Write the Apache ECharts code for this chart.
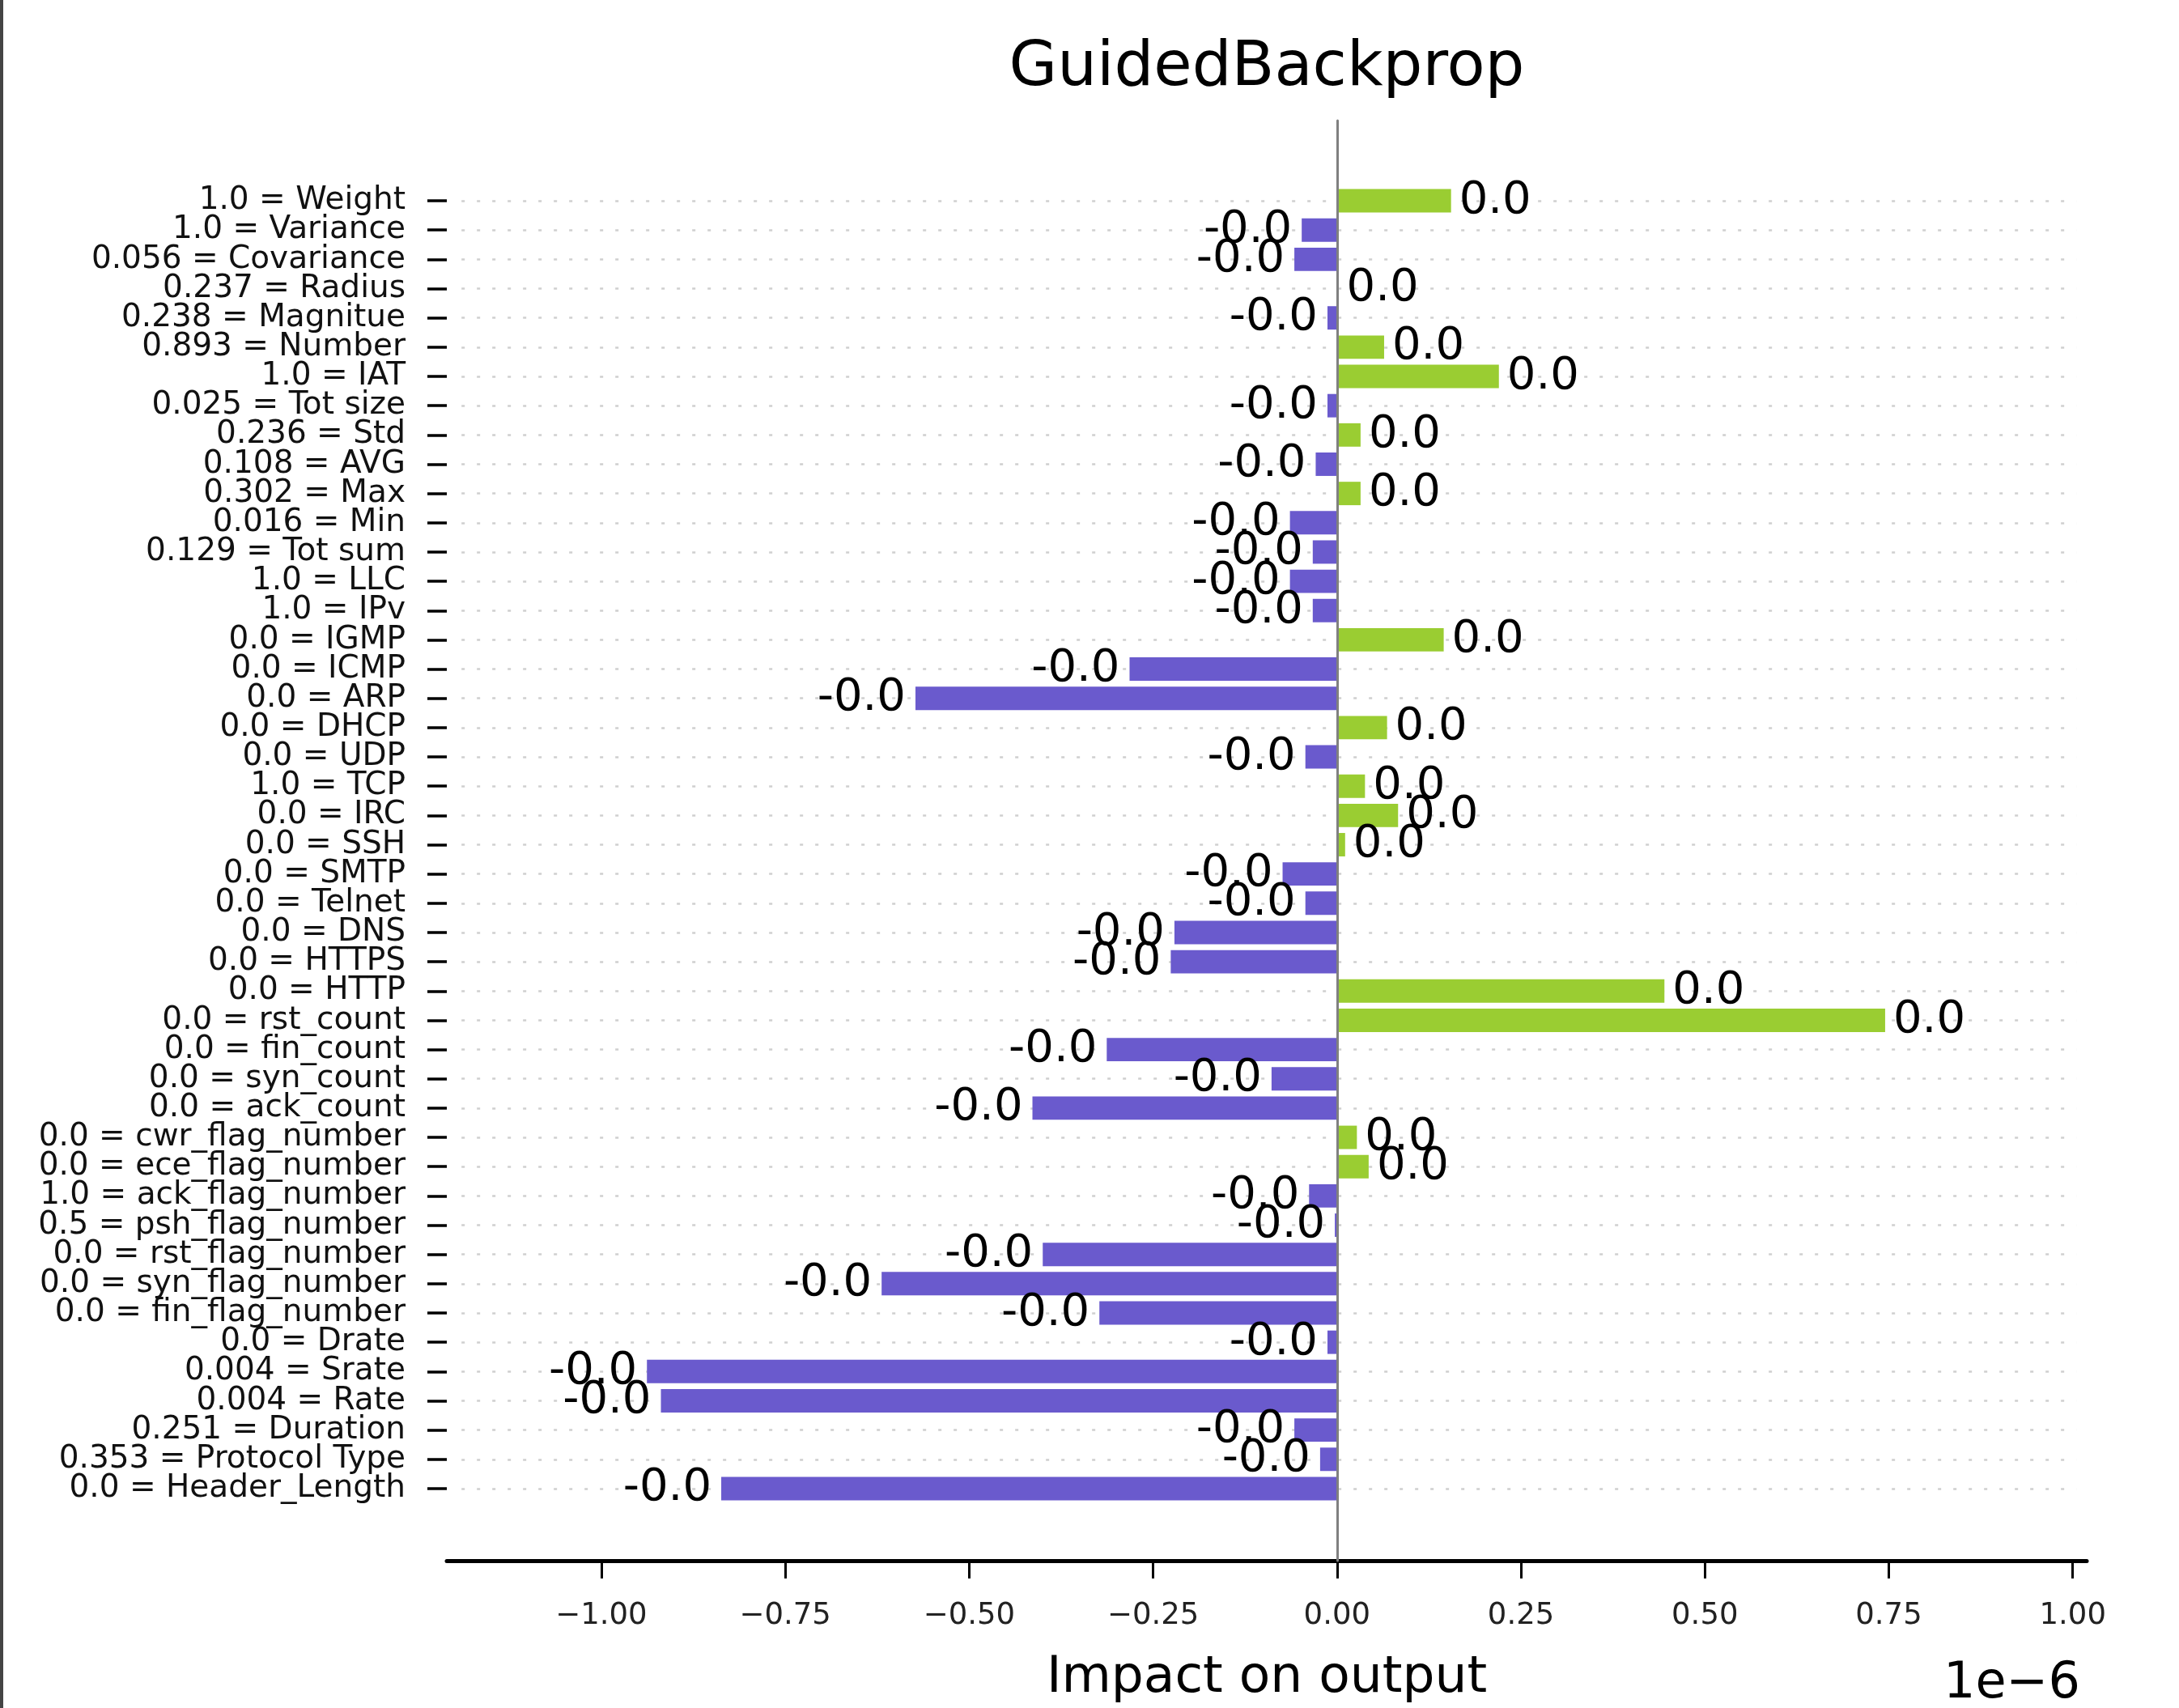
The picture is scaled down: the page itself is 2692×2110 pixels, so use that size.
<!DOCTYPE html>
<html>
<head>
<meta charset="utf-8">
<script src="https://cdn.jsdelivr.net/npm/echarts@6/dist/echarts.min.js"></script>
<style>
  html, body { margin: 0; padding: 0; background: #fff; }
  #chart { width: 2692px; height: 2110px; position: relative; }
  #edge { position: absolute; left: 0; top: 0; width: 4px; height: 2110px; background: #444; z-index: 10; }
</style>
</head>
<body>
<div id="chart"></div>
<div id="edge"></div>
<script>
// Feature labels (top to bottom)
const categories = [
  "1.0 = Weight", "1.0 = Variance", "0.056 = Covariance", "0.237 = Radius", "0.238 = Magnitue",
  "0.893 = Number", "1.0 = IAT", "0.025 = Tot size", "0.236 = Std", "0.108 = AVG",
  "0.302 = Max", "0.016 = Min", "0.129 = Tot sum", "1.0 = LLC", "1.0 = IPv",
  "0.0 = IGMP", "0.0 = ICMP", "0.0 = ARP", "0.0 = DHCP", "0.0 = UDP",
  "1.0 = TCP", "0.0 = IRC", "0.0 = SSH", "0.0 = SMTP", "0.0 = Telnet",
  "0.0 = DNS", "0.0 = HTTPS", "0.0 = HTTP", "0.0 = rst_count", "0.0 = fin_count",
  "0.0 = syn_count", "0.0 = ack_count", "0.0 = cwr_flag_number", "0.0 = ece_flag_number", "1.0 = ack_flag_number",
  "0.5 = psh_flag_number", "0.0 = rst_flag_number", "0.0 = syn_flag_number", "0.0 = fin_flag_number", "0.0 = Drate",
  "0.004 = Srate", "0.004 = Rate", "0.251 = Duration", "0.353 = Protocol Type", "0.0 = Header_Length"
];
// Impact values in units of 1e-6
const impacts = [
  0.155, -0.048, -0.058, 0.002, -0.013,
  0.064, 0.220, -0.013, 0.032, -0.029,
  0.032, -0.064, -0.033, -0.064, -0.033,
  0.145, -0.282, -0.573, 0.068, -0.043,
  0.038, 0.083, 0.011, -0.074, -0.043,
  -0.221, -0.226, 0.445, 0.745, -0.313,
  -0.089, -0.414, 0.027, 0.043, -0.038,
  -0.003, -0.400, -0.619, -0.323, -0.013,
  -0.938, -0.919, -0.058, -0.023, -0.837
];
const tickValues = [-1.0, -0.75, -0.5, -0.25, 0.0, 0.25, 0.5, 0.75, 1.0];
const xMin = -1.21, xMax = 1.019;
const gridFrom = -1.19, gridTo = 1.005;
const posColor = '#9ACD32';
const negColor = '#6A5ACD';
const FONT = 'DejaVu Sans';

const chart = echarts.init(document.getElementById('chart'), null, { renderer: 'canvas' });

const barData = impacts.map(v => ({
  value: v,
  itemStyle: { color: v >= 0 ? posColor : negColor },
  label: { position: v >= 0 ? 'right' : 'left', distance: v >= 0 ? 10 : 12 }
}));

const option = {
  animation: false,
  backgroundColor: '#fff',
  textStyle: { fontFamily: FONT },
  graphic: [
    { type: 'text', x: 1565, y: 85, style: { text: 'GuidedBackprop', fontSize: 77, fontFamily: FONT, fill: '#000', textAlign: 'center', textVerticalAlign: 'middle' } },
    { type: 'text', x: 2570, y: 2081, style: { text: '1e\u22126', fontSize: 62, fontFamily: FONT, fill: '#000', textAlign: 'right', textVerticalAlign: 'middle' } }
  ],
  grid: [
    { left: 552, right: 114, top: 230, height: 1627 },
    { left: 552, right: 114, top: 149, height: 1788 }
  ],
  xAxis: [
    { gridIndex: 0, type: 'value', min: xMin, max: xMax, show: false, splitLine: { show: false } },
    {
      gridIndex: 1, type: 'value', min: xMin, max: xMax, position: 'bottom',
      axisLine: { show: true, onZero: false, lineStyle: { color: '#000', width: 5 } },
      axisTick: { show: true, customValues: tickValues, length: 22, lineStyle: { color: '#000', width: 3 } },
      axisLabel: {
        show: true, customValues: tickValues, fontSize: 37, margin: 50, color: '#222', fontFamily: FONT,
        formatter: v => (v < 0 ? '\u2212' : '') + Math.abs(v).toFixed(2)
      },
      splitLine: { show: false },
      name: 'Impact on output', nameLocation: 'middle', nameGap: 114,
      nameTextStyle: { fontSize: 63, color: '#000', fontFamily: FONT }
    }
  ],
  yAxis: [
    {
      gridIndex: 0, type: 'category', inverse: true, data: categories, position: 'left',
      axisLine: { show: false, onZero: false },
      axisTick: { show: true, interval: 0, alignWithLabel: true, length: 24, lineStyle: { color: '#000', width: 3.5 } },
      axisLabel: { interval: 0, fontSize: 39, margin: 51, color: '#111', fontFamily: FONT },
      splitLine: { show: false }
    },
    {
      gridIndex: 1, type: 'value', min: 0, max: 1, z: 3,
      axisLine: { show: true, onZero: true, lineStyle: { color: '#808080', width: 3 } },
      axisTick: { show: false }, axisLabel: { show: false }, splitLine: { show: false }
    }
  ],
  series: [
    {
      type: 'line', xAxisIndex: 0, yAxisIndex: 0, data: [], z: 1, silent: true,
      markLine: {
        silent: true, z: 1, symbol: ['none', 'none'], animation: false,
        label: { show: false },
        lineStyle: { color: '#cfcfcf', type: [4, 15], width: 2.5 },
        data: categories.map(c => [{ coord: [gridFrom, c] }, { coord: [gridTo, c] }])
      }
    },
    {
      type: 'bar', xAxisIndex: 0, yAxisIndex: 0, z: 2,
      barWidth: '80%',
      data: barData,
      label: {
        show: true, fontSize: 56, color: '#000', fontFamily: FONT,
        formatter: p => (p.value * 1e-6).toFixed(1)
      }
    }
  ]
};
chart.setOption(option);
</script>
</body>
</html>
